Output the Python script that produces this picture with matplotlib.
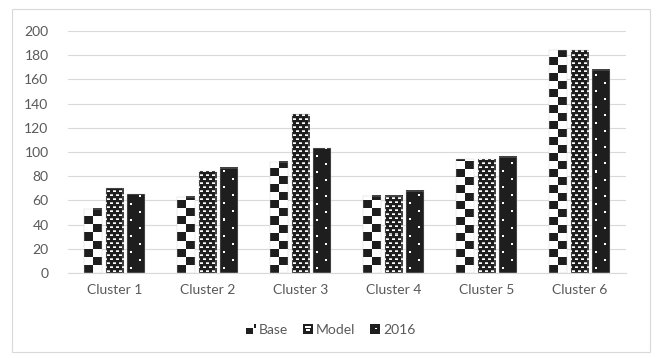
"""Grouped bar chart of cluster sizes with pattern-filled bars."""

import matplotlib.pyplot as plt
import numpy as np
from matplotlib.legend_handler import HandlerBase
from matplotlib.patches import Rectangle

CLUSTERS = ["Cluster 1", "Cluster 2", "Cluster 3", "Cluster 4", "Cluster 5", "Cluster 6"]
BASE = [53, 63, 92, 64, 94, 184]
MODEL = [70, 84, 131, 64, 94, 184]
Y2016 = [65, 87, 103, 68, 96, 168]
SERIES_NAMES = ["Base", "Model", "2016"]
Y_TICKS = list(range(0, 201, 20))

TEXT_COLOR = "#595959"
GRID_COLOR = "#d9d9d9"
INK = 0.12

W, H, DPI = 656, 358, 100


def checker(h, w):
    img = np.ones((h, w))
    half = w / 2.0
    for r in range(h):
        band = (r // 8) % 2
        for c in range(w):
            col = 0 if c < half else 1
            if (band + col) % 2 == 0:
                img[r, c] = INK
    return img


def brick(h, w):
    img = np.full((h, w), INK)
    for r in range(h):
        if r % 4 not in (1, 2):
            continue
        shift = 0 if (r // 4) % 2 == 0 else 3
        for c in range(w):
            if (c + shift) % 6 in (1, 2, 3):
                img[r, c] = 1.0 if r % 4 == 1 else 0.75
    return img


def dots(h, w):
    img = np.full((h, w), INK)
    for r in range(h):
        for c in range(w):
            if r % 16 in (4, 5) and c in (3, 4):
                img[r, c] = 1.0
            if r % 16 in (12, 13) and c in (w - 6, w - 5):
                img[r, c] = 1.0
    return img


PATTERNS = [checker, brick, dots]


class SquareHandler(HandlerBase):
    """Legend key built from a tiny pixel grid."""

    def __init__(self, grid):
        super().__init__()
        self.grid = np.array(grid)

    def create_artists(self, legend, orig_handle, xdescent, ydescent,
                       width, height, fontsize, trans):
        n = self.grid.shape[0]
        side = height * 0.95
        x0 = -xdescent + width - side
        y0 = -ydescent + (height - side) / 2
        cell = side / n
        artists = []
        for r in range(n):
            for c in range(n):
                if self.grid[r, c]:
                    artists.append(Rectangle(
                        (x0 + c * cell, y0 + (n - 1 - r) * cell), cell, cell,
                        facecolor="#1f1f1f", edgecolor="none", transform=trans))
        return artists


LEGEND_GRIDS = [
    [[0, 0, 0, 0, 0, 1], [0, 0, 0, 0, 0, 1], [1, 1, 1, 1, 0, 0],
     [1, 1, 1, 1, 0, 0], [1, 1, 1, 1, 0, 0], [1, 1, 1, 1, 0, 0]],
    [[1, 1, 1, 1, 1, 1], [1, 0, 0, 0, 0, 1], [1, 1, 1, 1, 1, 1],
     [1, 1, 0, 0, 1, 1], [1, 1, 1, 1, 1, 1], [1, 1, 1, 1, 1, 1]],
    [[1, 1, 1, 1, 1, 1], [1, 1, 1, 1, 1, 1], [1, 1, 1, 0, 1, 1],
     [1, 1, 1, 1, 1, 1], [1, 1, 1, 1, 1, 1], [1, 1, 1, 1, 1, 1]],
]

plt.rcParams["font.family"] = ["Lato", "DejaVu Sans"]

fig = plt.figure(figsize=(W / DPI, H / DPI), dpi=DPI)
ax = fig.add_axes([68 / W, 85 / H, 558 / W, 242 / H])

# light frame around the whole chart
fig.patches.append(Rectangle((12 / W, 6 / H), 638 / W, 343 / H,
                             transform=fig.transFigure, facecolor="none",
                             edgecolor=GRID_COLOR, linewidth=0.8))

x = np.arange(len(CLUSTERS))
bar_w = 0.19
offset = 0.232
px_per_x = 558 / 6
px_per_y = 242 / 200

handles = []
for i, values in enumerate([BASE, MODEL, Y2016]):
    bars = ax.bar(x + (i - 1) * offset, values, bar_w, facecolor="none",
                  edgecolor="#d0d0d0", linewidth=0.3, zorder=3,
                  label=SERIES_NAMES[i])
    handles.append(bars)
    for rect in bars:
        bx, bh = rect.get_x(), rect.get_height()
        hp = max(int(round(bh * px_per_y)), 1)
        wp = max(int(round(bar_w * px_per_x)), 1)
        img = PATTERNS[i](hp, wp)
        ax.imshow(img, cmap="gray", vmin=0, vmax=1, origin="lower",
                  extent=(bx, bx + bar_w, 0, bh), interpolation="nearest",
                  aspect="auto", zorder=2)

ax.set_xlim(-0.5, len(CLUSTERS) - 0.5)
ax.set_ylim(0, 200)
ax.set_yticks(Y_TICKS)
ax.set_xticks(x)
ax.set_xticklabels(CLUSTERS)
ax.grid(axis="y", color=GRID_COLOR, linewidth=0.8, zorder=0)
ax.set_axisbelow(True)
for side in ["top", "right", "left"]:
    ax.spines[side].set_visible(False)
ax.spines["bottom"].set_color(GRID_COLOR)
ax.tick_params(axis="both", length=0, colors=TEXT_COLOR, labelsize=10)
ax.tick_params(axis="x", pad=8)
ax.tick_params(axis="y", pad=14)

ax.legend(handles, SERIES_NAMES, loc="center", bbox_to_anchor=(330 / W, 28 / H),
          bbox_transform=fig.transFigure, ncol=3, frameon=False, fontsize=10,
          labelcolor=TEXT_COLOR, handlelength=0.8, handleheight=0.8,
          handletextpad=0.2, columnspacing=1.0,
          handler_map={handles[k]: SquareHandler(LEGEND_GRIDS[k]) for k in range(3)})

fig.savefig("out.png", dpi=DPI)
